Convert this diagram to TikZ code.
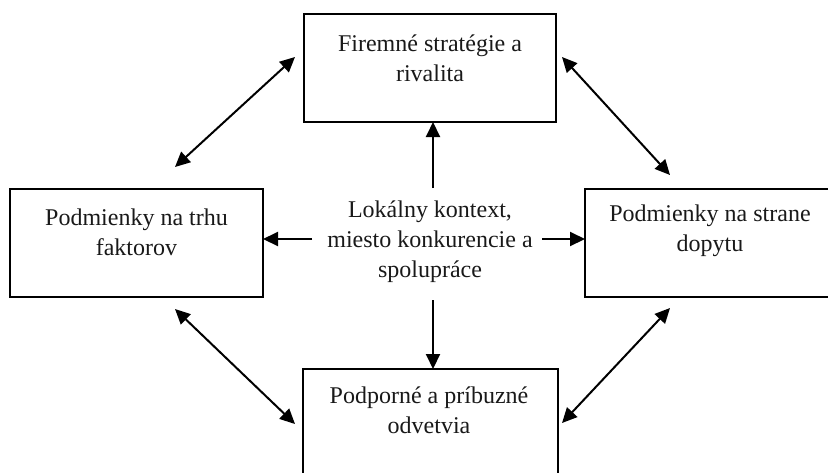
\documentclass[tikz,border=0pt]{standalone}
\usepackage{fontspec}
\setmainfont{Liberation Serif}
\usetikzlibrary{arrows.meta}
\begin{document}
\begin{tikzpicture}[x=0.5pt,y=-0.5pt,
  box/.style={draw=black,line width=1pt,fill=white},
  lbl/.style={align=center,inner sep=0pt,font=\fontsize{12}{15}\selectfont,text=black!90},
  conn/.style={line width=1pt,-{Triangle[length=7.5pt,width=7pt]}},
  bconn/.style={line width=1pt,{Triangle[length=7.5pt,width=7pt]}-{Triangle[length=7.5pt,width=7pt]}}]
\useasboundingbox (0,0) rectangle (828,472);
\clip (0,0) rectangle (828,472);
% boxes
\draw[box] (304,14) rectangle (556,122);
\draw[box] (10,189) rectangle (263,297);
\draw[box] (585,189) rectangle (835,297);
\draw[box] (303,369) rectangle (558,477);
\coordinate (topS) at (433,122);
\coordinate (botN) at (433,369);
\coordinate (leftE) at (263,239);
\coordinate (rightW) at (585,239);
% texts
\node[lbl] (top) at (430,58) {Firemné stratégie a\\rivalita};
\node[lbl] (left) at (136.5,232.5) {Podmienky na trhu\\faktorov};
\node[lbl] (right) at (710,231) {Podmienky na strane\\dopytu};
\node[lbl] (bot) at (429,410) {Podporné a príbuzné\\odvetvia};
\node[lbl] (ctr) at (430,241.5) {Lokálny kontext,\\miesto konkurencie a\\spolupráce};
% center arrows
\coordinate (cN) at (433,188);
\coordinate (cS) at (433,300);
\coordinate (cW) at (312,239);
\coordinate (cE) at (542,239);
\draw[conn] (cN) -- (topS);
\draw[conn] (cS) -- (botN);
\draw[conn] (cW) -- (leftE);
\draw[conn] (cE) -- (rightW);
% diagonal arrows
\coordinate (d1a) at (295,57);
\coordinate (d1b) at (175,167);
\coordinate (d2a) at (562,57);
\coordinate (d2b) at (670,175);
\coordinate (d3a) at (175,309);
\coordinate (d3b) at (295,424);
\coordinate (d4a) at (670,308);
\coordinate (d4b) at (562,423);
\draw[bconn] (d1a) -- (d1b);
\draw[bconn] (d2a) -- (d2b);
\draw[bconn] (d3a) -- (d3b);
\draw[bconn] (d4a) -- (d4b);
\end{tikzpicture}
\end{document}
